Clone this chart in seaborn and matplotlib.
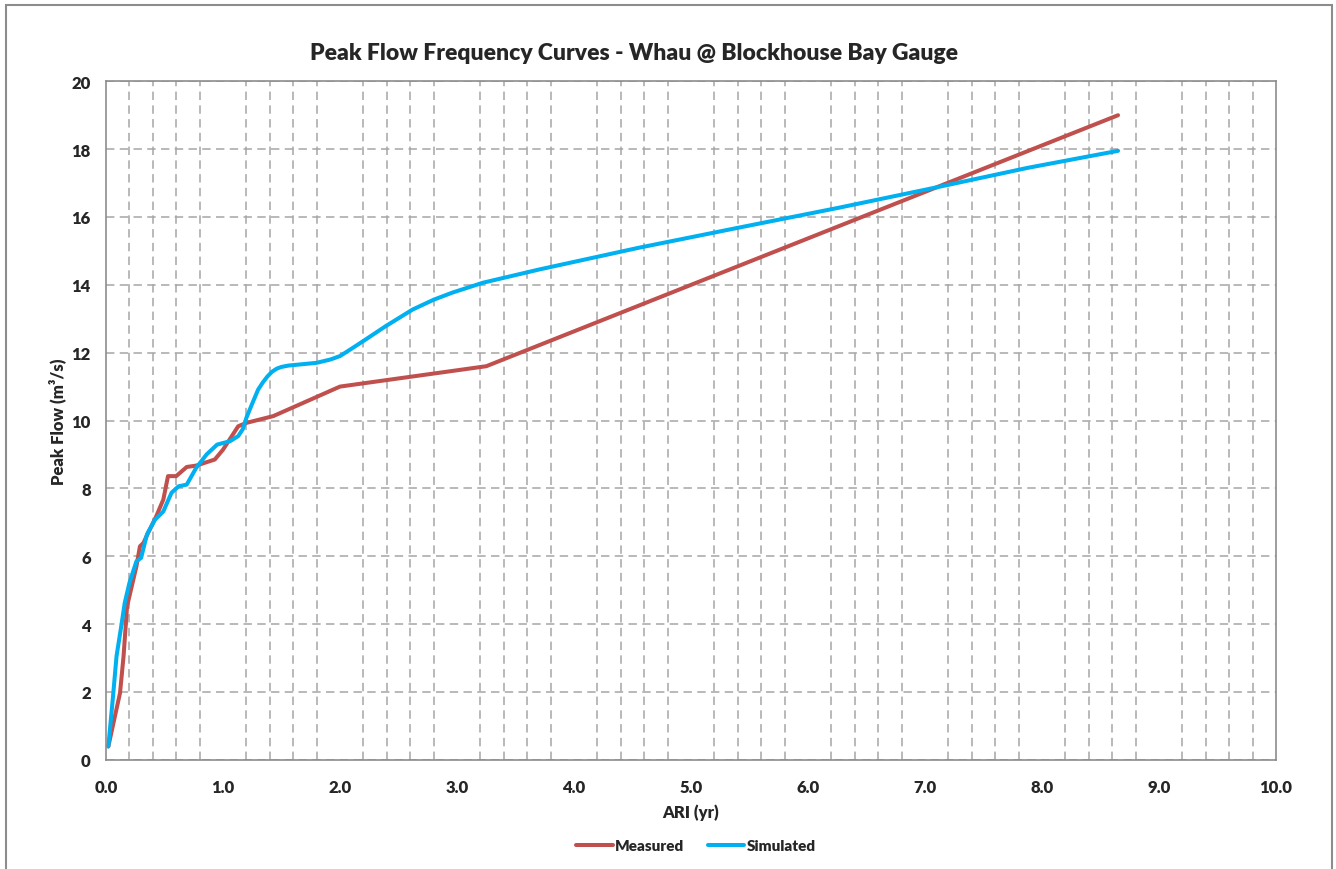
import matplotlib
matplotlib.use("Agg")
import matplotlib.pyplot as plt
from matplotlib.patches import Rectangle
from matplotlib.ticker import MultipleLocator
import seaborn as sns
import pandas as pd

# ------------------------- Data -------------------------
measured_ari = [0.02, 0.12, 0.15, 0.18, 0.22, 0.26, 0.29, 0.32, 0.36, 0.43, 0.49, 0.53,
                0.60, 0.69, 0.77, 0.93, 1.00, 1.13, 1.20, 1.43, 2.00, 3.25, 8.65]
measured_flow = [0.39, 1.97, 3.05, 4.52, 5.11, 5.70, 6.29, 6.39, 6.69, 7.18, 7.67, 8.36,
                 8.36, 8.63, 8.67, 8.85, 9.14, 9.83, 9.93, 10.13, 11.00, 11.60, 19.00]

simulated_ari = [0.02, 0.06, 0.09, 0.13, 0.16, 0.20, 0.26, 0.30, 0.35, 0.42, 0.49, 0.56,
                 0.62, 0.69, 0.77, 0.86, 0.95, 1.06, 1.13, 1.17, 1.20, 1.25, 1.30, 1.34,
                 1.38, 1.42, 1.46, 1.50, 1.56, 1.65, 1.80, 1.92, 2.00, 2.10, 2.22, 2.39,
                 2.62, 2.80, 2.96, 3.22, 3.70, 4.55, 5.40, 6.26, 7.08, 7.88, 8.65]
simulated_flow = [0.39, 1.87, 3.05, 3.93, 4.62, 5.21, 5.85, 5.95, 6.64, 7.08, 7.32, 7.87,
                  8.06, 8.11, 8.60, 9.00, 9.29, 9.39, 9.54, 9.75, 10.08, 10.50, 10.91, 11.12,
                  11.30, 11.44, 11.53, 11.58, 11.62, 11.65, 11.70, 11.80, 11.90, 12.12, 12.39, 12.78,
                  13.27, 13.56, 13.77, 14.06, 14.45, 15.09, 15.68, 16.27, 16.86, 17.45, 17.95]

series_names = ["Measured", "Simulated"]
series_colors = ["#C0504D", "#00B0F0"]

x_ticks = [0, 1, 2, 3, 4, 5, 6, 7, 8, 9, 10]
y_ticks = [0, 2, 4, 6, 8, 10, 12, 14, 16, 18, 20]

df = pd.concat([
    pd.DataFrame({"ARI": measured_ari, "Flow": measured_flow, "Series": series_names[0]}),
    pd.DataFrame({"ARI": simulated_ari, "Flow": simulated_flow, "Series": series_names[1]}),
])

# ------------------------- Plot -------------------------
sns.set_style("white")
plt.rcParams["font.family"] = ["Lato", "DejaVu Sans"]
plt.rcParams["font.weight"] = "heavy"

fig = plt.figure(figsize=(13.36, 8.70), dpi=100)
ax = fig.add_axes([106 / 1336, 1 - 760.7 / 870, (1276 - 106) / 1336, (760.7 - 82.3) / 870])

sns.lineplot(data=df, x="ARI", y="Flow", hue="Series", palette=series_colors,
             linewidth=2.9, sort=False, estimator=None, legend=False, ax=ax,
             solid_joinstyle="round", solid_capstyle="round")

ax.set_xlim(0, 10)
ax.set_ylim(0, 20)
ax.set_xticks(x_ticks)
ax.set_xticklabels([f"{v:.1f}" for v in x_ticks])
ax.set_yticks(y_ticks)
ax.xaxis.set_minor_locator(MultipleLocator(0.2))

grid_kw = dict(color="#A6A6A6", linestyle=(0, (5.5, 3.5)), linewidth=1.1)
ax.grid(True, which="major", axis="y", **grid_kw)
ax.grid(True, which="minor", axis="x", **grid_kw)
ax.grid(False, which="major", axis="x")
ax.set_axisbelow(True)

for side in ["left", "bottom", "top", "right"]:
    ax.spines[side].set_color("#8C8C8C")
    ax.spines[side].set_linewidth(1.2)

ax.tick_params(axis="both", which="major", direction="out", length=5, width=1.2,
               color="#8C8C8C", labelsize=12, pad=6)
ax.tick_params(axis="x", which="minor", length=0)
ax.tick_params(axis="x", which="major", pad=9)

ax.set_xlabel("ARI (yr)", fontsize=12, fontweight="heavy", labelpad=6)
ax.set_ylabel("Peak Flow (m³/s)", fontsize=12, fontweight="heavy", labelpad=4)

fig.text(634 / 1336, 1 - 53 / 870, "Peak Flow Frequency Curves - Whau @ Blockhouse Bay Gauge",
         ha="center", va="center", fontsize=16.5, fontweight="heavy")

# legend below the axis
handles = [plt.Line2D([], [], color=c, linewidth=2.9) for c in series_colors]
fig.legend(handles, series_names, loc="center", ncol=2, frameon=False,
           bbox_to_anchor=(696 / 1336, 1 - 847 / 870), fontsize=11,
           handlelength=2.4, handletextpad=0.15, columnspacing=1.5)

# outer chart border
fig.patches.append(Rectangle((6 / 1336, -0.02), 1326 / 1336, 1.02 - 6 / 870,
                             transform=fig.transFigure, fill=False,
                             edgecolor="#8C8C8C", linewidth=1.5))

fig.savefig("out.png", dpi=100)
plt.close(fig)
